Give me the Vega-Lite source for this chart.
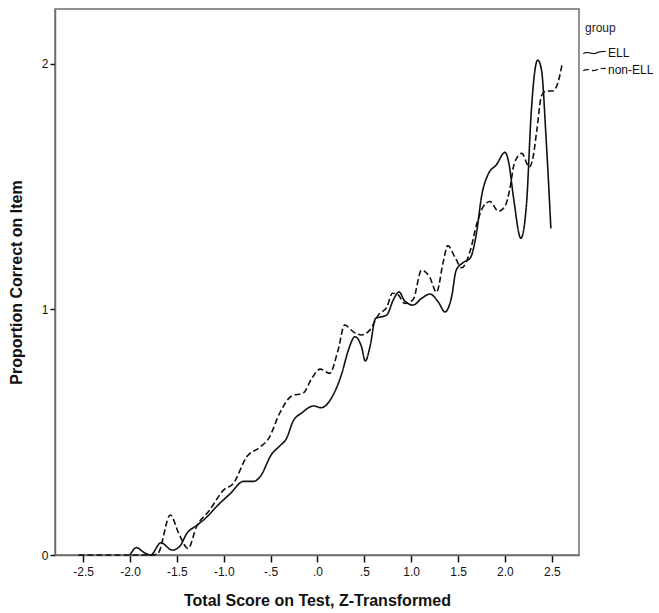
{
  "$schema": "https://vega.github.io/schema/vega-lite/v6.json",
  "width": 524,
  "height": 546,
  "autosize": {"type": "none"},
  "padding": {"left": 55, "top": 9, "right": 80, "bottom": 58},
  "background": "white",
  "config": {
    "font": "Liberation Sans",
    "view": {"stroke": "#6e6e6e", "strokeWidth": 1.5},
    "axis": {
      "grid": false,
      "domainColor": "#6e6e6e",
      "domainWidth": 1.5,
      "tickColor": "#111",
      "tickWidth": 1.5,
      "labelColor": "#111",
      "labelFontSize": 12,
      "titleFontSize": 16,
      "titleFontWeight": "bold",
      "titleColor": "#111"
    }
  },
  "data": {
    "values": [
      {"z": -2.0, "p": 0, "group": "ELL"},
      {"z": -1.93, "p": 0.03, "group": "ELL"},
      {"z": -1.85, "p": 0.01, "group": "ELL"},
      {"z": -1.78, "p": 0, "group": "ELL"},
      {"z": -1.67, "p": 0.05, "group": "ELL"},
      {"z": -1.55, "p": 0.02, "group": "ELL"},
      {"z": -1.47, "p": 0.035, "group": "ELL"},
      {"z": -1.39, "p": 0.09, "group": "ELL"},
      {"z": -1.29, "p": 0.12, "group": "ELL"},
      {"z": -1.18, "p": 0.155, "group": "ELL"},
      {"z": -1.07, "p": 0.2, "group": "ELL"},
      {"z": -0.93, "p": 0.25, "group": "ELL"},
      {"z": -0.79, "p": 0.3, "group": "ELL"},
      {"z": -0.68, "p": 0.3, "group": "ELL"},
      {"z": -0.61, "p": 0.32, "group": "ELL"},
      {"z": -0.49, "p": 0.41, "group": "ELL"},
      {"z": -0.4, "p": 0.445, "group": "ELL"},
      {"z": -0.33, "p": 0.475, "group": "ELL"},
      {"z": -0.26, "p": 0.545, "group": "ELL"},
      {"z": -0.17, "p": 0.578, "group": "ELL"},
      {"z": -0.04, "p": 0.607, "group": "ELL"},
      {"z": 0.04, "p": 0.6, "group": "ELL"},
      {"z": 0.15, "p": 0.64, "group": "ELL"},
      {"z": 0.26, "p": 0.74, "group": "ELL"},
      {"z": 0.33, "p": 0.835, "group": "ELL"},
      {"z": 0.4, "p": 0.889, "group": "ELL"},
      {"z": 0.47, "p": 0.848, "group": "ELL"},
      {"z": 0.51, "p": 0.79, "group": "ELL"},
      {"z": 0.56, "p": 0.848, "group": "ELL"},
      {"z": 0.62, "p": 0.964, "group": "ELL"},
      {"z": 0.68, "p": 0.97, "group": "ELL"},
      {"z": 0.74, "p": 0.978, "group": "ELL"},
      {"z": 0.81, "p": 1.04, "group": "ELL"},
      {"z": 0.87, "p": 1.072, "group": "ELL"},
      {"z": 0.93, "p": 1.035, "group": "ELL"},
      {"z": 1.02, "p": 1.018, "group": "ELL"},
      {"z": 1.11, "p": 1.045, "group": "ELL"},
      {"z": 1.2, "p": 1.063, "group": "ELL"},
      {"z": 1.29, "p": 1.03, "group": "ELL"},
      {"z": 1.36, "p": 0.99, "group": "ELL"},
      {"z": 1.43, "p": 1.05, "group": "ELL"},
      {"z": 1.48, "p": 1.16, "group": "ELL"},
      {"z": 1.55, "p": 1.19, "group": "ELL"},
      {"z": 1.63, "p": 1.21, "group": "ELL"},
      {"z": 1.7, "p": 1.32, "group": "ELL"},
      {"z": 1.75, "p": 1.46, "group": "ELL"},
      {"z": 1.82, "p": 1.55, "group": "ELL"},
      {"z": 1.91, "p": 1.59, "group": "ELL"},
      {"z": 2.0, "p": 1.64, "group": "ELL"},
      {"z": 2.04, "p": 1.6, "group": "ELL"},
      {"z": 2.09, "p": 1.46, "group": "ELL"},
      {"z": 2.17, "p": 1.29, "group": "ELL"},
      {"z": 2.23, "p": 1.43, "group": "ELL"},
      {"z": 2.28, "p": 1.8, "group": "ELL"},
      {"z": 2.32, "p": 1.975, "group": "ELL"},
      {"z": 2.35, "p": 2.016, "group": "ELL"},
      {"z": 2.39, "p": 1.975, "group": "ELL"},
      {"z": 2.44, "p": 1.69, "group": "ELL"},
      {"z": 2.49, "p": 1.33, "group": "ELL"},

      {"z": -2.55, "p": 0, "group": "non-ELL"},
      {"z": -1.75, "p": 0, "group": "non-ELL"},
      {"z": -1.7, "p": 0.007, "group": "non-ELL"},
      {"z": -1.57, "p": 0.163, "group": "non-ELL"},
      {"z": -1.48, "p": 0.088, "group": "non-ELL"},
      {"z": -1.38, "p": 0.027, "group": "non-ELL"},
      {"z": -1.29, "p": 0.115, "group": "non-ELL"},
      {"z": -1.15, "p": 0.183, "group": "non-ELL"},
      {"z": -1.0, "p": 0.265, "group": "non-ELL"},
      {"z": -0.9, "p": 0.29, "group": "non-ELL"},
      {"z": -0.755, "p": 0.4, "group": "non-ELL"},
      {"z": -0.61, "p": 0.44, "group": "non-ELL"},
      {"z": -0.52, "p": 0.475, "group": "non-ELL"},
      {"z": -0.4, "p": 0.58, "group": "non-ELL"},
      {"z": -0.275, "p": 0.648, "group": "non-ELL"},
      {"z": -0.15, "p": 0.66, "group": "non-ELL"},
      {"z": -0.06, "p": 0.72, "group": "non-ELL"},
      {"z": 0.03, "p": 0.757, "group": "non-ELL"},
      {"z": 0.13, "p": 0.74, "group": "non-ELL"},
      {"z": 0.22, "p": 0.835, "group": "non-ELL"},
      {"z": 0.29, "p": 0.937, "group": "non-ELL"},
      {"z": 0.38, "p": 0.91, "group": "non-ELL"},
      {"z": 0.47, "p": 0.896, "group": "non-ELL"},
      {"z": 0.56, "p": 0.917, "group": "non-ELL"},
      {"z": 0.65, "p": 0.978, "group": "non-ELL"},
      {"z": 0.74, "p": 1.01, "group": "non-ELL"},
      {"z": 0.8, "p": 1.066, "group": "non-ELL"},
      {"z": 0.86, "p": 1.06, "group": "non-ELL"},
      {"z": 0.93, "p": 1.025, "group": "non-ELL"},
      {"z": 1.02, "p": 1.04, "group": "non-ELL"},
      {"z": 1.11, "p": 1.16, "group": "non-ELL"},
      {"z": 1.2, "p": 1.13, "group": "non-ELL"},
      {"z": 1.27, "p": 1.07, "group": "non-ELL"},
      {"z": 1.34, "p": 1.19, "group": "non-ELL"},
      {"z": 1.39, "p": 1.26, "group": "non-ELL"},
      {"z": 1.47, "p": 1.21, "group": "non-ELL"},
      {"z": 1.54, "p": 1.17, "group": "non-ELL"},
      {"z": 1.63, "p": 1.24, "group": "non-ELL"},
      {"z": 1.7, "p": 1.35, "group": "non-ELL"},
      {"z": 1.77, "p": 1.42, "group": "non-ELL"},
      {"z": 1.84, "p": 1.44, "group": "non-ELL"},
      {"z": 1.93, "p": 1.4, "group": "non-ELL"},
      {"z": 2.0, "p": 1.42, "group": "non-ELL"},
      {"z": 2.05, "p": 1.487, "group": "non-ELL"},
      {"z": 2.1, "p": 1.595, "group": "non-ELL"},
      {"z": 2.18, "p": 1.636, "group": "non-ELL"},
      {"z": 2.26, "p": 1.58, "group": "non-ELL"},
      {"z": 2.3, "p": 1.62, "group": "non-ELL"},
      {"z": 2.34, "p": 1.73, "group": "non-ELL"},
      {"z": 2.39, "p": 1.87, "group": "non-ELL"},
      {"z": 2.44, "p": 1.89, "group": "non-ELL"},
      {"z": 2.51, "p": 1.89, "group": "non-ELL"},
      {"z": 2.57, "p": 1.93, "group": "non-ELL"},
      {"z": 2.61, "p": 2.0, "group": "non-ELL"}
    ]
  },
  "mark": {"type": "line", "interpolate": "monotone", "color": "#111", "strokeWidth": 1.6},
  "encoding": {
    "x": {
      "field": "z",
      "type": "quantitative",
      "scale": {"domain": [-2.8, 2.79], "nice": false, "zero": false},
      "axis": {
        "title": "Total Score on Test, Z-Transformed",
        "values": [-2.5, -2, -1.5, -1, -0.5, 0, 0.5, 1, 1.5, 2, 2.5],
        "labelExpr": "replace(replace(format(datum.value, '.1f'), '\u2212', '-'), '0.', '.')",
        "tickSize": 7,
        "labelPadding": 4,
        "titlePadding": 15
      }
    },
    "y": {
      "field": "p",
      "type": "quantitative",
      "scale": {"domain": [0, 2.224], "nice": false},
      "axis": {
        "title": "Proportion Correct on Item",
        "values": [0, 1, 2],
        "format": "d",
        "tickSize": 5,
        "labelPadding": 2,
        "titlePadding": 17
      }
    },
    "strokeDash": {
      "field": "group",
      "type": "nominal",
      "scale": {"domain": ["ELL", "non-ELL"], "range": [[1, 0], [6, 3]]},
      "legend": {
        "title": "group",
        "orient": "none",
        "legendX": 530,
        "legendY": 14,
        "titleFontWeight": "normal",
        "titleFontSize": 12,
        "titleColor": "#222",
        "titlePadding": 8,
        "labelFontSize": 12,
        "labelColor": "#111",
        "labelOffset": 4,
        "rowPadding": 1,
        "symbolType": "M-1.3,0.15C-0.8,-0.25,-0.3,0.3,0.2,0.06C0.6,-0.1,1,-0.15,1.3,-0.1",
        "symbolSize": 300,
        "symbolStrokeColor": "#111",
        "symbolStrokeWidth": 1.2,
        "symbolFillColor": "transparent"
      }
    }
  }
}
